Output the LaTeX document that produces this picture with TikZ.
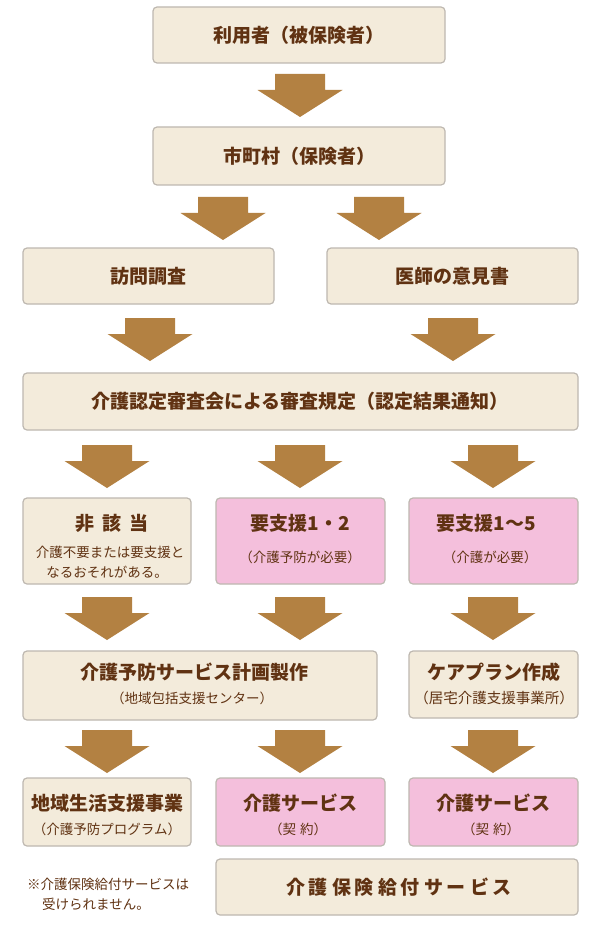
\documentclass[tikz,border=0pt]{standalone}
\usepackage{fontspec}
\setmainfont{Noto Sans CJK JP}
\usetikzlibrary{calc}
\definecolor{beige}{RGB}{243,235,219}
\definecolor{pinkf}{RGB}{244,191,220}
\definecolor{edge}{RGB}{190,184,176}
\definecolor{txt}{RGB}{96,50,18}
\definecolor{arr}{RGB}{179,129,66}
\tikzset{
 box/.style={draw=edge, line width=1.2pt, rounded corners=4pt, fill=beige, inner sep=0pt},
 pbox/.style={box, fill=pinkf},
 ttl/.style={text=txt, font=\fontsize{19}{22}\selectfont\bfseries, inner sep=0pt},
 sub/.style={text=txt, font=\fontsize{13.5}{16}\selectfont, inner sep=0pt},
 note/.style={text=txt, font=\fontsize{13.5}{16}\selectfont, inner sep=0pt, anchor=west},
 darrow/.pic={\fill[arr] (-25,0) -- (25,0) -- (25,16) -- (42.5,16) -- (0,43) -- (-42.5,16) -- (-25,16) -- cycle;}
}
\newcommand{\bx}[6]{\node[#1, minimum width={#5-#3}, minimum height={#6-#4}] (#2) at ({(#3+#5)/2},{(#4+#6)/2}) {};}
\begin{document}
\begin{tikzpicture}[x=1pt,y=-1pt]
\fill[white] (0,0) rectangle (600,925);
\useasboundingbox (0,0) rectangle (600,925);
% boxes
\bx{box}{b1}{153}{7}{445}{63}
\bx{box}{b2}{153}{127}{445}{185}
\bx{box}{b3a}{23}{248}{274}{304}
\bx{box}{b3b}{327}{248}{578}{304}
\bx{box}{b4}{23}{373}{578}{430}
\bx{box}{b5a}{23}{498}{191}{584}
\bx{pbox}{b5b}{216}{498}{385}{584}
\bx{pbox}{b5c}{409}{498}{578}{584}
\bx{box}{b6a}{23}{651}{377}{720}
\bx{box}{b6b}{409}{651}{578}{718}
\bx{box}{b7a}{23}{778}{191}{846}
\bx{pbox}{b7b}{216}{778}{385}{846}
\bx{pbox}{b7c}{409}{778}{578}{846}
\bx{box}{b8}{216}{859}{578}{915}
% arrows
\pic at (300,74) {darrow};
\pic at (223,197) {darrow};
\pic at (379,197) {darrow};
\pic at (150,318) {darrow};
\pic at (453,318) {darrow};
\foreach \yy in {445,597,730}{
  \pic at (107,\yy) {darrow};
  \pic at (300,\yy) {darrow};
  \pic at (493,\yy) {darrow};
}
% texts
\node[ttl] (t1) at (299,35) {利用者（被保険者）};
\node[ttl] (t2) at (299,156) {市町村（保険者）};
\node[ttl] (t3a) at (148,276) {訪問調査};
\node[ttl] (t3b) at (452,276) {医師の意見書};
\node[ttl] (t4) at (300,401) {介護認定審査会による審査規定（認定結果通知）};
\node[ttl] (t5a) at (112,523) {非\kern8pt 該\kern8pt 当};
\node[sub] (s5a1) at (110,552) {介護不要または要支援と};
\node[sub] (s5a2) at (107,572) {なるおそれがある。};
\node[ttl] (t5b) at (300,523) {要支援1・2};
\node[sub] (s5b) at (300,557) {（介護予防が必要）};
\node[ttl] (t5c) at (486,523) {要支援1～5};
\node[sub] (s5c) at (490,557) {（介護が必要）};
\node[ttl] (t6a) at (194,672) {介護予防サービス計画製作};
\node[sub] (s6a) at (192,698) {（地域包括支援センター）};
\node[ttl] (t6b) at (494,672) {ケアプラン作成};
\node[sub, font=\fontsize{14.5}{16}\selectfont] (s6b) at (494,698) {（居宅介護支援事業所）};
\node[ttl] (t7a) at (107,803) {地域生活支援事業};
\node[sub] (s7a) at (107,829) {（介護予防プログラム）};
\node[ttl] (t7b) at (300,803) {介護サービス};
\node[sub] (s7b) at (298,829) {（契\kern4pt 約）};
\node[ttl] (t7c) at (493,803) {介護サービス};
\node[sub] (s7c) at (491,829) {（契\kern4pt 約）};
\node[ttl] (t8) at (399,887) {介\kern4pt 護\kern4pt 保\kern4pt 険\kern4pt 給\kern4pt 付\kern4pt サ\kern4pt ー\kern4pt ビ\kern4pt ス};
\node[note] (n1) at (27,884) {※介護保険給付サービスは};
\node[note] (n2) at (42,904) {受けられません。};
\end{tikzpicture}
\end{document}
